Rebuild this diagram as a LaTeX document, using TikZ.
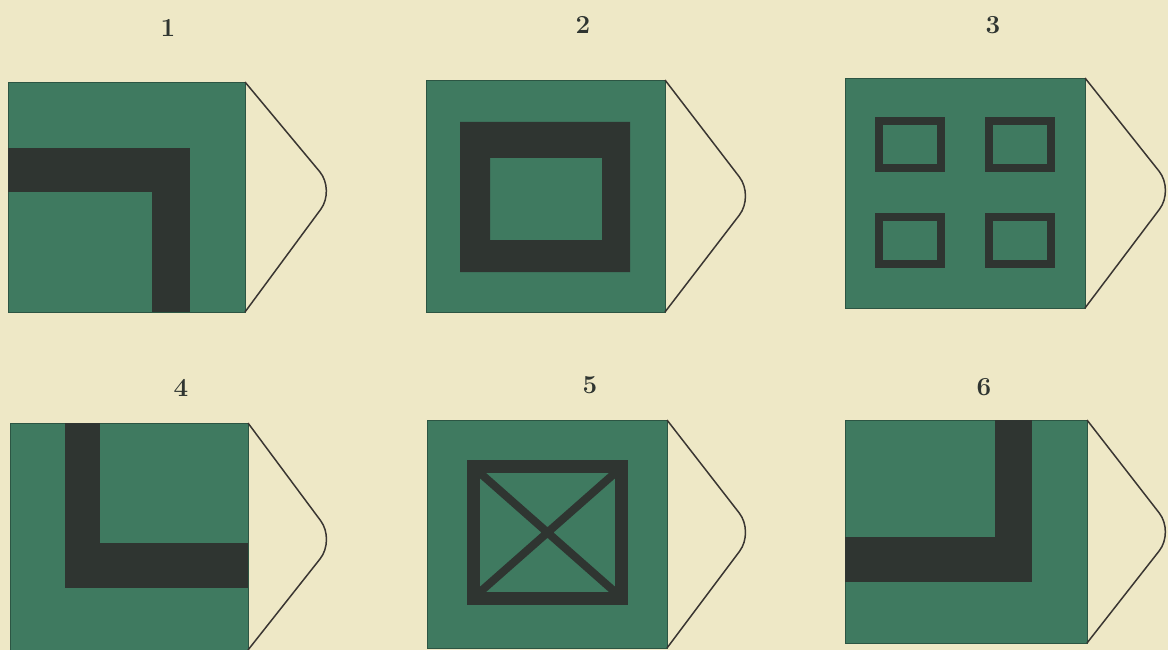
\documentclass[tikz,border=0pt]{standalone}
\usepackage{tikz}
\usetikzlibrary{positioning, calc}
\definecolor{paper}{HTML}{EEE8C6}
\definecolor{boardgreen}{HTML}{3F7A60}
\definecolor{stripedark}{HTML}{2F3531}
\definecolor{flapline}{HTML}{3A3632}
\begin{document}
\begin{tikzpicture}[x=1pt, y=-1pt,
        board/.style = {fill=boardgreen, draw=boardgreen!70!black, line width=0.8pt, inner sep=0pt, outer sep=0pt, anchor=north west},
        stripe/.style = {fill=stripedark},
        ring/.style = {draw=stripedark, line width=#1},
        flapedge/.style = {draw=flapline, line width=1.5pt, rounded corners=24pt},
        numlabel/.style = {font=\fontsize{26}{30}\selectfont\bfseries, text=stripedark},
    ]
        % paper and bounding box
        \fill[paper] (0,0) rectangle (1168,650);
        \useasboundingbox (0,0) rectangle (1168,650);

        % boards
        \node[board, minimum width=237pt, minimum height=230pt] (sq1) at (8,82) {};
        \node[board, minimum width=239pt, minimum height=232pt] (sq2) at (426,80) {};
        \node[board, minimum width=240pt, minimum height=230pt] (sq3) at (845,78) {};
        \node[board, minimum width=238pt, minimum height=227pt] (sq4) at (10,423) {};
        \node[board, minimum width=240pt, minimum height=228pt] (sq5) at (427,420) {};
        \node[board, minimum width=242pt, minimum height=223pt] (sq6) at (845,420) {};

        % flap tips
        \coordinate (tip1) at (335,190);
        \coordinate (tip2) at (754,196);
        \coordinate (tip3) at (1174,190);
        \coordinate (tip4) at (335,540);
        \coordinate (tip5) at (754,532);
        \coordinate (tip6) at (1174,532);
        \foreach \i in {1,...,6}
            \draw[flapedge] (sq\i.north east) -- (tip\i) -- (sq\i.south east);

        % numbers
        \node[numlabel] (lbl1) at (168,28) {1};
        \node[numlabel] (lbl2) at (583,25) {2};
        \node[numlabel] (lbl3) at (993,25) {3};
        \node[numlabel] (lbl4) at (181,388) {4};
        \node[numlabel] (lbl5) at (590,385) {5};
        \node[numlabel] (lbl6) at (984,387) {6};

        % 1: corner band
        \fill[stripe] (8,148) rectangle (190,192);
        \fill[stripe] (152,148) rectangle (190,312);

        % 2: square ring
        \fill[stripe, even odd rule] (460,122) rectangle (630,272) (490,158) rectangle (602,240);

        % 3: four small frames
        \foreach \fx/\fy in {879/121, 989/121, 879/217, 989/217}
            \draw[ring=8pt] (\fx,\fy) rectangle ++(62,47);

        % 4: corner band
        \fill[stripe] (65,423) rectangle (100,588);
        \fill[stripe] (65,543) rectangle (248,588);

        % 5: frame with cross
        \draw[ring=13pt] (473.5,466.5) rectangle (621.5,598.5);
        \draw[ring=8pt] (480,473) -- (615,592) (615,473) -- (480,592);

        % 6: corner band
        \fill[stripe] (995,420) rectangle (1032,582);
        \fill[stripe] (845,537) rectangle (1032,582);
    \end{tikzpicture}
\end{document}
